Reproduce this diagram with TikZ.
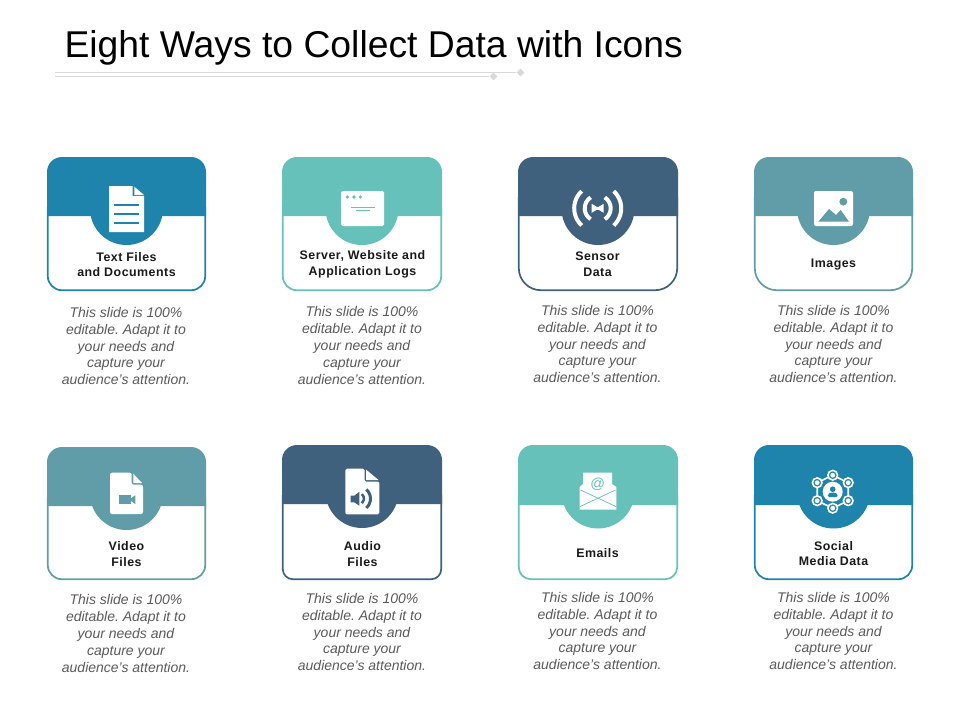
\documentclass[tikz,border=0pt]{standalone}
\usepackage{fontspec}
\setmainfont{Liberation Sans}
\newfontfamily\labelfont[LetterSpace=4]{Liberation Sans}
\usetikzlibrary{shapes.geometric}
\definecolor{blueC}{HTML}{1F84AB}
\definecolor{tealC}{HTML}{66C1BA}
\definecolor{navyC}{HTML}{40617D}
\definecolor{slateC}{HTML}{609DA8}
\definecolor{ruleC}{HTML}{D9D9D9}
\definecolor{descC}{HTML}{5A5A5A}
\tikzset{
    cardframe/.style={line width=1.7pt},
    cardhead/.style={rounded corners=15pt},
    cardlabel/.style={inner sep=0pt, align=center, text=black!90, font=\labelfont\bfseries\fontsize{12.4}{15.7}\selectfont},
    carddesc/.style={inner sep=0pt, align=center, text=descC, font=\frenchspacing\itshape\fontsize{14}{16.8}\selectfont},
    iconfill/.style={fill=white},
    ruleline/.style={draw=ruleC, line width=1pt},
    ruledot/.style={diamond, fill=ruleC, inner sep=0pt, minimum size=8pt},
    socialring/.style={draw=white, fill=blueC, line width=1.6pt},
}

\begin{document}
\begin{tikzpicture}[x=1pt,y=-1pt]
    \useasboundingbox (0,0) rectangle (960,720);

    % Title
    \node[anchor=base west, inner sep=0pt, font=\fontsize{37.3}{44}\selectfont] (title) at (64.3,57) {Eight Ways to Collect Data with Icons};
    \coordinate (ruleA) at (55,72.5);
    \coordinate (ruleB) at (55,76.5);
    \node[ruledot] (dotA) at (520.5,72.5) {};
    \node[ruledot] (dotB) at (493.5,76.5) {};
    \draw[ruleline] (ruleA) -- (dotA);
    \draw[ruleline] (ruleB) -- (dotB);

    % Text files
    \begin{scope}[shift={(47,157)}]
        \draw[cardframe, blueC, rounded corners=14pt] (0.8,50) -- (0.8,133.2) -- (158.2,133.2) -- (158.2,50);
        \fill[cardhead, blueC] (0,59) -- (0,0) -- (159,0) -- (159,59);
        \fill[blueC] (79.5,51.5) circle[radius=36.5pt];
        \fill[iconfill] (62,29) -- (85.7,29) -- (85.7,39) -- (97,39) -- (97,75) -- (62,75) -- cycle;
        \fill[iconfill] (87.3,29.7) -- (97,38) -- (87.3,38) -- cycle;
        \draw[blueC, line width=1.9pt] (66.7,47.7) -- (92.3,47.7);
        \draw[blueC, line width=1.9pt] (66.7,56.7) -- (92.3,56.7);
        \draw[blueC, line width=1.9pt] (66.7,65.7) -- (92.3,65.7);
        \node[cardlabel] (textlabel) at (79.5,107.5) {Text Files\\and Documents};
        \node[carddesc] (textdesc) at (79,189) {This slide is 100\%\\editable. Adapt it to\\your needs and\\capture your\\audience's attention.};
    \end{scope}

    % Server logs
    \begin{scope}[shift={(282,157)}]
        \draw[cardframe, tealC, rounded corners=14pt] (0.8,50) -- (0.8,133.2) -- (159.2,133.2) -- (159.2,50);
        \fill[cardhead, tealC] (0,59) -- (0,0) -- (160,0) -- (160,59);
        \fill[tealC] (80,51.5) circle[radius=36.5pt];
        \fill[iconfill, rounded corners=1.5pt] (59,34) rectangle (102,69);
        \fill[tealC] (65.3,40) circle[radius=1.8pt];
        \fill[tealC] (72,40) circle[radius=1.8pt];
        \fill[tealC] (78.3,40) circle[radius=1.8pt];
        \draw[tealC, line width=0.9pt] (69,50) -- (93,50);
        \draw[tealC, line width=0.9pt] (74,53.7) -- (88,53.7);
        \node[cardlabel] (serverlabel) at (80.5,107.5) {Server, Website and\\Application Logs};
        \node[carddesc] (serverdesc) at (80,188.5) {This slide is 100\%\\editable. Adapt it to\\your needs and\\capture your\\audience's attention.};
    \end{scope}

    % Sensor data
    \begin{scope}[shift={(518,157)}]
        \draw[cardframe, navyC, rounded corners=22pt] (0.8,40) -- (0.8,133.2) -- (159.2,133.2) -- (159.2,40);
        \fill[cardhead, navyC] (0,59) -- (0,0) -- (160,0) -- (160,59);
        \fill[navyC] (80,51.5) circle[radius=36.5pt];
        \begin{scope}[shift={(79.7,51.3)}]
            \fill[iconfill] (-6,-4.5) -- (-1,-1.5) -- (1,-1.5) -- (6,-4.5) -- (6,4.5) -- (1,1.5) -- (-1,1.5) -- (-6,4.5) -- cycle;
            \draw[white, line width=4pt] (123:13pt) arc[start angle=123, end angle=237, radius=13pt];
            \draw[white, line width=4pt] (57:13pt) arc[start angle=57, end angle=-57, radius=13pt];
            \draw[white, line width=4pt] (133:23.5pt) arc[start angle=133, end angle=227, radius=23.5pt];
            \draw[white, line width=4pt] (47:23.5pt) arc[start angle=47, end angle=-47, radius=23.5pt];
        \end{scope}
        \node[cardlabel] (sensorlabel) at (79.5,107.5) {Sensor\\Data};
        \node[carddesc] (sensordesc) at (79.5,187) {This slide is 100\%\\editable. Adapt it to\\your needs and\\capture your\\audience's attention.};
    \end{scope}

    % Images
    \begin{scope}[shift={(754,157)}]
        \draw[cardframe, slateC, rounded corners=22pt] (0.8,40) -- (0.8,133.2) -- (158.2,133.2) -- (158.2,40);
        \fill[cardhead, slateC] (0,59) -- (0,0) -- (159,0) -- (159,59);
        \fill[slateC] (79.5,51.5) circle[radius=36.5pt];
        \fill[iconfill, rounded corners=2pt] (60,34) rectangle (99,69);
        \fill[slateC] (89.3,44.7) circle[radius=3.9pt];
        \fill[slateC] (64.3,64.7) -- (75,52) -- (82,58) -- (86.7,53) -- (95,64.7) -- cycle;
        \node[cardlabel] (imageslabel) at (79.5,107.5) {Images};
        \node[carddesc] (imagesdesc) at (79.5,187) {This slide is 100\%\\editable. Adapt it to\\your needs and\\capture your\\audience's attention.};
    \end{scope}

    % Video files
    \begin{scope}[shift={(47,447)}]
        \draw[cardframe, slateC, rounded corners=14pt] (0.8,50) -- (0.8,132.2) -- (158.2,132.2) -- (158.2,50);
        \fill[cardhead, slateC] (0,59) -- (0,0) -- (159,0) -- (159,59);
        \fill[slateC] (79.5,46.5) circle[radius=36.5pt];
        \fill[iconfill, rounded corners=2pt] (63,25.7) -- (84.7,25.7) -- (84.7,37.7) -- (96,37.7) -- (96,67) -- (63,67) -- cycle;
        \fill[iconfill] (86.3,26.7) -- (95,36) -- (86.3,36) -- cycle;
        \fill[slateC] (72,48.3) rectangle (84,57);
        \fill[slateC] (84,51.3) -- (88.3,48.3) -- (88.3,57) -- (84,54) -- cycle;
        \node[cardlabel] (videolabel) at (79.5,107) {Video\\Files};
        \node[carddesc] (videodesc) at (79,186.5) {This slide is 100\%\\editable. Adapt it to\\your needs and\\capture your\\audience's attention.};
    \end{scope}

    % Audio files
    \begin{scope}[shift={(282,445)}]
        \draw[cardframe, navyC, rounded corners=10pt] (0.8,50) -- (0.8,134.2) -- (159.2,134.2) -- (159.2,50);
        \fill[cardhead, navyC] (0,59) -- (0,0) -- (160,0) -- (160,59);
        \fill[navyC] (80,46.5) circle[radius=36.5pt];
        \fill[iconfill, rounded corners=1.5pt] (63.3,23.7) -- (82.5,23.7) -- (82.5,36.5) -- (97.3,36.5) -- (97.3,69.3) -- (63.3,69.3) -- cycle;
        \fill[iconfill] (84.2,24.7) -- (96.5,35) -- (84.2,35) -- cycle;
        \fill[navyC] (68.7,50.7) -- (72.3,50.7) -- (77.3,46.7) -- (77.3,60.7) -- (72.3,57.3) -- (68.7,57.3) -- cycle;
        \begin{scope}[shift={(76,53.7)}]
            \draw[navyC, line width=2.5pt] (50:6pt) arc[start angle=50, end angle=-50, radius=6pt];
            \draw[navyC, line width=3pt] (48:12.5pt) arc[start angle=48, end angle=-48, radius=12.5pt];
        \end{scope}
        \node[cardlabel] (audiolabel) at (80.5,109) {Audio\\Files};
        \node[carddesc] (audiodesc) at (80,187) {This slide is 100\%\\editable. Adapt it to\\your needs and\\capture your\\audience's attention.};
    \end{scope}

    % Emails
    \begin{scope}[shift={(518,445)}]
        \draw[cardframe, tealC, rounded corners=12pt] (0.8,50) -- (0.8,134.2) -- (159.2,134.2) -- (159.2,50);
        \fill[cardhead, tealC] (0,60) -- (0,0) -- (160,0) -- (160,60);
        \fill[tealC] (80,47) circle[radius=36.5pt];
        \fill[iconfill] (61.7,42) -- (65,39) -- (65,27.7) -- (94,27.7) -- (94,39) -- (98.3,42) -- (98.3,64.7) -- (61.7,64.7) -- cycle;
        \node[inner sep=0pt, text=tealC, font=\fontsize{14.5}{14.5}\selectfont] (emailsign) at (79.7,39.7) {@};
        \draw[tealC, line width=0.7pt] (62.5,45) -- (98.3,61.7);
        \draw[tealC, line width=0.7pt] (97.5,45) -- (61.7,61.7);
        \node[cardlabel] (emailslabel) at (79.5,108.5) {Emails};
        \node[carddesc] (emailsdesc) at (79.5,186) {This slide is 100\%\\editable. Adapt it to\\your needs and\\capture your\\audience's attention.};
    \end{scope}

    % Social media
    \begin{scope}[shift={(754,445)}]
        \draw[cardframe, blueC, rounded corners=14pt] (0.8,50) -- (0.8,134.2) -- (158.2,134.2) -- (158.2,50);
        \fill[cardhead, blueC] (0,60) -- (0,0) -- (159,0) -- (159,60);
        \fill[blueC] (79.5,47) circle[radius=36.5pt];
        \begin{scope}[shift={(78.7,46.7)}]
            \draw[white, line width=1.6pt] (0,-16.5) -- (15.5,-9) -- (15.5,9) -- (0,16.5) -- (-15.5,9) -- (-15.5,-9) -- cycle;
            \filldraw[socialring] (0,-16.5) circle[radius=4.8pt];
            \filldraw[socialring] (15.5,-9) circle[radius=4.8pt];
            \filldraw[socialring] (15.5,9) circle[radius=4.8pt];
            \filldraw[socialring] (0,16.5) circle[radius=4.8pt];
            \filldraw[socialring] (-15.5,9) circle[radius=4.8pt];
            \filldraw[socialring] (-15.5,-9) circle[radius=4.8pt];
            \fill[iconfill] (0,-16.5) circle[radius=2.4pt];
            \fill[iconfill] (15.5,-9) circle[radius=2.4pt];
            \fill[iconfill] (15.5,9) circle[radius=2.4pt];
            \fill[iconfill] (0,16.5) circle[radius=2.4pt];
            \fill[iconfill] (-15.5,9) circle[radius=2.4pt];
            \fill[iconfill] (-15.5,-9) circle[radius=2.4pt];
            \fill[iconfill] (0,0) circle[radius=10pt];
            \fill[blueC] (0,-2.5) circle[radius=2.8pt];
            \fill[blueC, rounded corners=1.5pt] (-5,5.5) -- (-5,2.5) -- (-2,0.8) -- (2,0.8) -- (5,2.5) -- (5,5.5) -- cycle;
        \end{scope}
        \node[cardlabel] (sociallabel) at (79.5,108.5) {Social\\Media Data};
        \node[carddesc] (socialdesc) at (79.5,186) {This slide is 100\%\\editable. Adapt it to\\your needs and\\capture your\\audience's attention.};
    \end{scope}
\end{tikzpicture}
\end{document}
